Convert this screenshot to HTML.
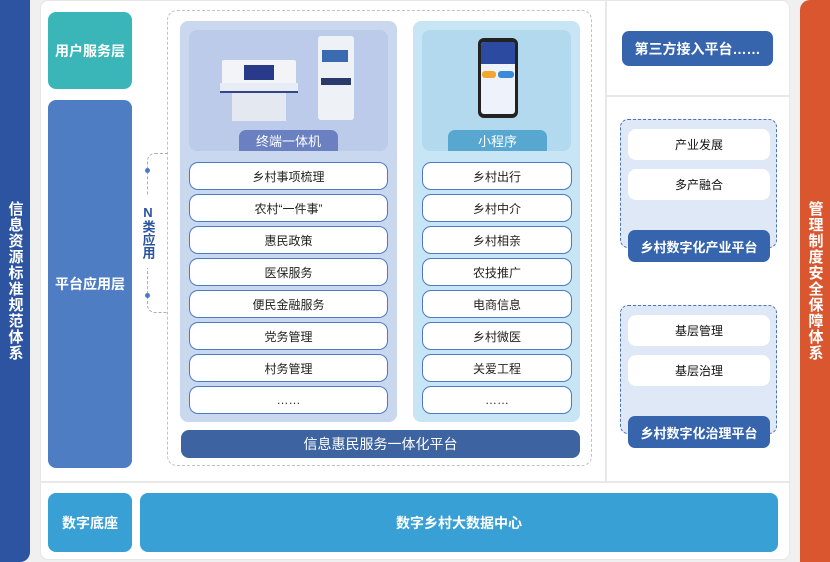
<!DOCTYPE html><html><head><meta charset="utf-8"><style>
*{margin:0;padding:0;box-sizing:border-box}
body{width:830px;height:562px;background:#f0f0f0;position:relative;overflow:hidden;font-family:"Liberation Sans","Noto Sans CJK SC",sans-serif}
.a{position:absolute}
.c{display:flex;align-items:center;justify-content:center}
.w{color:#fff}
.it{position:absolute;height:28px;background:#fff;border:1.5px solid #4a7ac8;border-radius:9px;font-size:12px;color:#222;display:flex;align-items:center;justify-content:center}
.ri{position:absolute;left:628px;width:142px;height:31px;background:#fff;border-radius:8px;font-size:12px;color:#111;display:flex;align-items:center;justify-content:center}
.vt{writing-mode:vertical-rl;text-orientation:upright;font-weight:bold;font-size:15px;letter-spacing:1px}
</style></head><body>
<div class="a c w vt" style="left:0;top:0;width:30px;height:562px;background:#2d54a0;border-radius:0 0 10px 0">信息资源标准规范体系</div>
<div class="a c w vt" style="left:800px;top:0;width:30px;height:562px;background:#d9562f;border-radius:10px 0 0 0">管理制度安全保障体系</div>
<div class="a" style="left:40px;top:0;width:750px;height:560px;background:#fff;border:1.5px solid #e6e6e6;border-radius:8px"></div>
<div class="a" style="left:41px;top:481px;width:748px;height:1.5px;background:#e8e8e8"></div>
<div class="a" style="left:605px;top:1px;width:1.5px;height:480px;background:#e8e8e8"></div>
<div class="a" style="left:606px;top:95px;width:183px;height:1.5px;background:#e8e8e8"></div>

<div class="a c w" style="left:48px;top:12px;width:84px;height:77px;background:#3ab5b8;border-radius:8px;font-size:14px;font-weight:bold">用户服务层</div>
<div class="a c w" style="left:48px;top:100px;width:84px;height:368px;background:#4f7dc4;border-radius:8px;font-size:14px;font-weight:bold">平台应用层</div>
<div class="a c w" style="left:48px;top:493px;width:84px;height:59px;background:#38a0d5;border-radius:8px;font-size:14px;font-weight:bold">数字底座</div>
<div class="a c w" style="left:140px;top:493px;width:638px;height:59px;background:#38a0d5;border-radius:8px;font-size:14px;font-weight:bold">数字乡村大数据中心</div>

<div class="a" style="left:147px;top:153px;width:21px;height:160px;border:1.2px dashed #aab;border-right:none;border-radius:8px 0 0 8px"></div>
<div class="a" style="left:145px;top:168px;width:5px;height:5px;border-radius:50%;background:#4a7ac8"></div>
<div class="a" style="left:145px;top:293px;width:5px;height:5px;border-radius:50%;background:#4a7ac8"></div>
<div class="a c vt" style="left:138px;top:196px;width:20px;height:72px;background:#fff;color:#2d54a0;font-size:13px;letter-spacing:0">N类应用</div>

<div class="a" style="left:167px;top:10px;width:425px;height:456px;border:1.2px dashed #c0c0c8;border-radius:10px"></div>
<div class="a" style="left:180px;top:21px;width:217px;height:401px;background:#c9d8ef;border-radius:8px"></div>
<div class="a" style="left:413px;top:21px;width:167px;height:401px;background:#c7e5f4;border-radius:8px"></div>
<div class="a" style="left:189px;top:30px;width:199px;height:121px;background:#bccbe9;border-radius:8px"></div>
<div class="a" style="left:422px;top:30px;width:149px;height:121px;background:#b3d9ee;border-radius:8px"></div>
<!-- kiosk images -->
<div class="a" style="left:222px;top:60px;width:74px;height:24px;background:#f2f4f8;border-radius:2px"></div>
<div class="a" style="left:244px;top:65px;width:30px;height:15px;background:#2a3a8a"></div>
<div class="a" style="left:220px;top:83px;width:78px;height:10px;background:#e8ecf4;border-bottom:2px solid #34458a"></div>
<div class="a" style="left:232px;top:93px;width:54px;height:28px;background:#e4e8f0"></div>
<div class="a" style="left:318px;top:36px;width:36px;height:84px;background:#eef1f6;border-radius:3px"></div>
<div class="a" style="left:322px;top:50px;width:26px;height:12px;background:#3a6ab0"></div>
<div class="a" style="left:321px;top:78px;width:30px;height:7px;background:#2a3a6a"></div>
<div class="a" style="left:478px;top:38px;width:40px;height:80px;background:#222;border-radius:6px"></div>
<div class="a" style="left:481px;top:42px;width:34px;height:72px;background:#eef2fa;border-radius:3px"></div>
<div class="a" style="left:481px;top:42px;width:34px;height:22px;background:#2c4aa0;border-radius:3px 3px 0 0"></div>
<div class="a" style="left:482px;top:71px;width:14px;height:7px;background:#f0a830;border-radius:3px"></div>
<div class="a" style="left:498px;top:71px;width:16px;height:7px;background:#3a8ad8;border-radius:3px"></div>

<div class="a c w" style="left:239px;top:130px;width:99px;height:21px;background:#6a80c0;border-radius:7px 7px 0 0;font-size:13px">终端一体机</div>
<div class="a c w" style="left:448px;top:130px;width:99px;height:21px;background:#57a7d0;border-radius:7px 7px 0 0;font-size:13px">小程序</div>

<div class="it" style="left:189px;top:162px;width:199px">乡村事项梳理</div>
<div class="it" style="left:189px;top:194px;width:199px">农村“一件事”</div>
<div class="it" style="left:189px;top:226px;width:199px">惠民政策</div>
<div class="it" style="left:189px;top:258px;width:199px">医保服务</div>
<div class="it" style="left:189px;top:290px;width:199px">便民金融服务</div>
<div class="it" style="left:189px;top:322px;width:199px">党务管理</div>
<div class="it" style="left:189px;top:354px;width:199px">村务管理</div>
<div class="it" style="left:189px;top:386px;width:199px">……</div>
<div class="it" style="left:422px;top:162px;width:150px">乡村出行</div>
<div class="it" style="left:422px;top:194px;width:150px">乡村中介</div>
<div class="it" style="left:422px;top:226px;width:150px">乡村相亲</div>
<div class="it" style="left:422px;top:258px;width:150px">农技推广</div>
<div class="it" style="left:422px;top:290px;width:150px">电商信息</div>
<div class="it" style="left:422px;top:322px;width:150px">乡村微医</div>
<div class="it" style="left:422px;top:354px;width:150px">关爱工程</div>
<div class="it" style="left:422px;top:386px;width:150px">……</div>
<div class="a c w" style="left:181px;top:430px;width:399px;height:28px;background:#3d63a0;border-radius:8px;font-size:14px">信息惠民服务一体化平台</div>

<div class="a c w" style="left:622px;top:31px;width:151px;height:35px;background:#3665ae;border-radius:7px;font-size:14px;font-weight:bold">第三方接入平台……</div>
<div class="a" style="left:620px;top:119px;width:157px;height:129px;background:#dfe8f6;border:1.2px dashed #4a72b8;border-radius:8px"></div>
<div class="ri" style="top:129px">产业发展</div>
<div class="ri" style="top:169px">多产融合</div>
<div class="a c w" style="left:628px;top:230px;width:142px;height:32px;background:#3665ae;border-radius:7px;font-size:13px;font-weight:bold">乡村数字化产业平台</div>
<div class="a" style="left:620px;top:305px;width:157px;height:129px;background:#dfe8f6;border:1.2px dashed #4a72b8;border-radius:8px"></div>
<div class="ri" style="top:315px">基层管理</div>
<div class="ri" style="top:355px">基层治理</div>
<div class="a c w" style="left:628px;top:416px;width:142px;height:32px;background:#3665ae;border-radius:7px;font-size:13px;font-weight:bold">乡村数字化治理平台</div>
</body></html>
